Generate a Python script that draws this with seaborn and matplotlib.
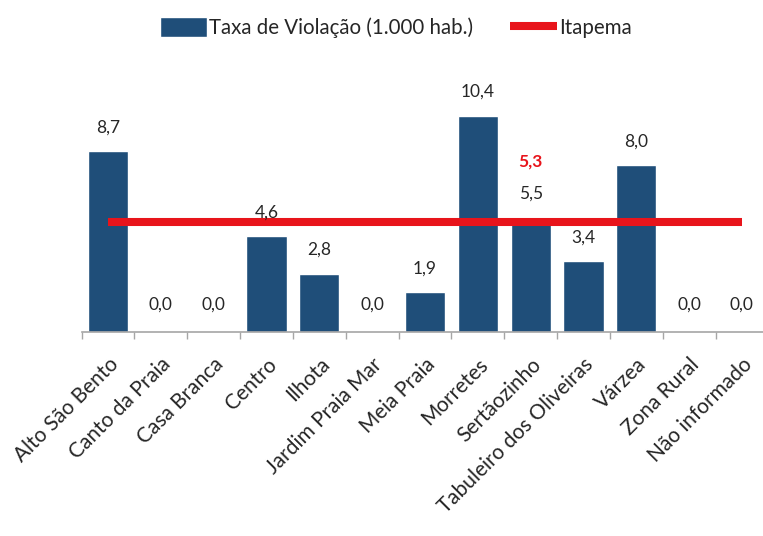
import matplotlib
matplotlib.use("Agg")
import matplotlib.pyplot as plt
import seaborn as sns
import pandas as pd

bairros = ["Alto São Bento", "Canto da Praia", "Casa Branca", "Centro", "Ilhota",
           "Jardim Praia Mar", "Meia Praia", "Morretes", "Sertãozinho",
           "Tabuleiro dos Oliveiras", "Várzea", "Zona Rural", "Não informado"]
taxa = [8.7, 0.0, 0.0, 4.6, 2.8, 0.0, 1.9, 10.4, 5.5, 3.4, 8.0, 0.0, 0.0]
itapema = 5.3
itapema_pos = "Sertãozinho"

BLUE = "#1F4E79"
RED = "#E8141B"
TXT = "#262626"

sns.set_theme(style="white")
plt.rcParams['font.family'] = ['Lato', 'DejaVu Sans']

df = pd.DataFrame({"bairro": bairros, "taxa": taxa})

fig = plt.figure(figsize=(7.63, 5.36), dpi=100)
ax = fig.add_axes([0.107, 0.3806, 0.900, 0.466])

sns.barplot(data=df, x="bairro", y="taxa", color=BLUE, width=0.76,
            saturation=1, ax=ax, label="Taxa de Violação (1.000 hab.)")
xs = list(range(len(bairros)))
ax.plot([xs[0], xs[-1]], [itapema, itapema], color=RED, lw=5.8,
        solid_capstyle="butt", label="Itapema", zorder=3)
if ax.get_legend() is not None:
    ax.get_legend().remove()

# value labels
for i, v in enumerate(taxa):
    off = 17 if v > 0 else 20
    ax.annotate(f"{v:.1f}".replace(".", ","), (i, v), xytext=(0, off),
                textcoords="offset points", ha="center", va="center",
                fontsize=12.5, color=TXT)
k = bairros.index(itapema_pos)
ax.annotate(f"{itapema:.1f}".replace(".", ","), (k, taxa[k]), xytext=(0, 40),
            textcoords="offset points", ha="center", va="center",
            fontsize=12.5, color=RED, fontweight="bold")

ax.set_ylim(0, 12)
ax.set_xlim(-0.5, len(bairros) - 0.5)
ax.set_yticks([])
ax.set_xlabel("")
ax.set_ylabel("")
for s in ["top", "right", "left"]:
    ax.spines[s].set_visible(False)
ax.spines["bottom"].set_color("#a6a6a6")
ax.spines["bottom"].set_linewidth(1.2)

ax.set_xticks(xs)
ax.set_xticklabels(bairros, rotation=45, ha="right", rotation_mode="anchor",
                   fontsize=15, color=TXT)
ax.tick_params(axis="x", which="major", length=0, pad=16)
ax.set_xticks([x - 0.5 for x in xs] + [xs[-1] + 0.5], minor=True)
ax.tick_params(axis="x", which="minor", length=5, width=1, color="#a6a6a6",
               bottom=True, direction="out")

handles, labels = ax.get_legend_handles_labels()
order = sorted(range(len(labels)), key=lambda j: labels[j] == "Itapema")
fig.legend([handles[j] for j in order], [labels[j] for j in order],
           loc="center", bbox_to_anchor=(0.519, 0.948), ncol=2,
           frameon=False, fontsize=14.8, handlelength=2.3, handleheight=1.1,
           handletextpad=0.1, columnspacing=1.8, labelcolor=TXT)

fig.savefig("out.png", dpi=100)
